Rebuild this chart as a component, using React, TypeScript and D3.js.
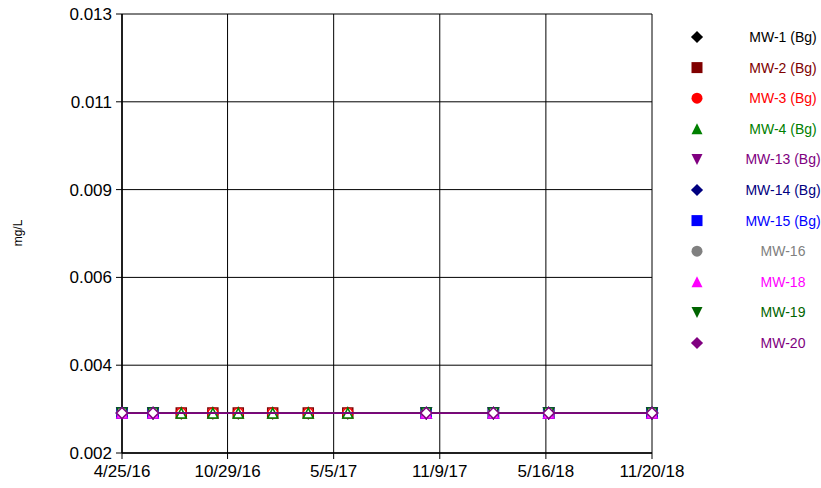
import React from "react";
import * as d3 from "d3";

// Sampling dates (ISO) and the concentration reported at each event (mg/L)
const sampleDates = [
  "2016-04-25", "2016-06-19", "2016-08-08", "2016-10-03", "2016-11-17", "2017-01-17",
  "2017-03-21", "2017-05-30", "2017-10-16", "2018-02-12", "2018-05-21", "2018-11-20",
];

const seriesNames = [
  "MW-1 (Bg)", "MW-2 (Bg)", "MW-3 (Bg)", "MW-4 (Bg)", "MW-13 (Bg)", "MW-14 (Bg)",
  "MW-15 (Bg)", "MW-16", "MW-18", "MW-19", "MW-20",
];

const seriesColors = [
  "#000000", "#800000", "#ff0000", "#008000", "#800080", "#000080",
  "#0000ff", "#808080", "#ff00ff", "#006400", "#800080",
];

const seriesShapes = [
  "diamond", "square", "circle", "triangle", "triangleDown", "diamond",
  "square", "circle", "triangle", "triangleDown", "diamond",
];

// null = not sampled on that date
const bgValues = [0.003, 0.003, 0.003, 0.003, 0.003, 0.003, 0.003, 0.003, 0.003, 0.003, 0.003, 0.003];
const dwValues = [0.003, 0.003, null, null, null, null, null, null, 0.003, 0.003, 0.003, 0.003];

const seriesValues: (number | null)[][] = [
  bgValues, bgValues, bgValues, bgValues,
  dwValues, dwValues, dwValues, dwValues, dwValues, dwValues, dwValues,
];

const xTickDates = ["2016-04-25", "2016-10-29", "2017-05-05", "2017-11-09", "2018-05-16", "2018-11-20"];
const yTickValues = [0.002, 0.0042, 0.0064, 0.0086, 0.0108, 0.013];

const W = 821;
const H = 488;
const M = { left: 122, right: 652, top: 14, bottom: 453 };
const FONT = "'Liberation Sans', Arial, sans-serif";

function symbolPath(shape: string, size: number): string {
  const h = size / 2;
  switch (shape) {
    case "diamond":
      return `M0,${-h * 1.1}L${h * 1.1},0L0,${h * 1.1}L${-h * 1.1},0Z`;
    case "square":
      return `M${-h},${-h}H${h}V${h}H${-h}Z`;
    case "circle":
      return `M${-h},0A${h},${h} 0 1,0 ${h},0A${h},${h} 0 1,0 ${-h},0Z`;
    case "triangle":
      return `M0,${-h}L${h},${h}L${-h},${h}Z`;
    case "triangleDown":
      return `M${-h},${-h}L${h},${-h}L0,${h}Z`;
    default:
      return "";
  }
}

export default function App() {
  const parse = (s: string) => new Date(s + "T00:00:00Z");
  const x = d3
    .scaleUtc()
    .domain([parse(xTickDates[0]), parse(xTickDates[xTickDates.length - 1])])
    .range([M.left, M.right]);
  const y = d3.scaleLinear().domain([0.002, 0.013]).range([M.bottom, M.top]);
  const fmtY = d3.format(".3f");
  const fmtX = d3.utcFormat("%-m/%-d/%y");

  const lineGen = d3
    .line<{ d: Date; v: number | null }>()
    .defined((p) => p.v !== null)
    .x((p) => x(p.d))
    .y((p) => y(p.v as number));

  const legendY0 = 37;
  const legendStep = 30.6;

  return (
    <svg
      width={W}
      height={H}
      style={{ position: "absolute", left: 0, top: 0, background: "#fff" }}
      fontFamily={FONT}
    >
      <rect x={0} y={0} width={W} height={H} fill="#fff" />
      {/* grid */}
      {yTickValues.map((t, i) => (
        <line key={"gy" + i} x1={M.left - 6} x2={M.right} y1={y(t)} y2={y(t)} stroke="#000" strokeWidth={1} />
      ))}
      {xTickDates.map((t, i) => (
        <line key={"gx" + i} x1={x(parse(t))} x2={x(parse(t))} y1={M.top} y2={M.bottom + 6} stroke="#000" strokeWidth={1} />
      ))}
      <line x1={M.left} x2={M.left} y1={M.top} y2={M.bottom} stroke="#000" strokeWidth={1.5} />
      <line x1={M.left} x2={M.right} y1={M.bottom} y2={M.bottom} stroke="#000" strokeWidth={1.5} />

      {/* tick labels */}
      {yTickValues.map((t, i) => (
        <text key={"ly" + i} x={112} y={y(t)} dy="0.35em" textAnchor="end" fontSize={17} fill="#000">
          {fmtY(t)}
        </text>
      ))}
      {xTickDates.map((t, i) => (
        <text key={"lx" + i} x={x(parse(t))} y={477} textAnchor="middle" fontSize={17} fill="#000">
          {fmtX(parse(t))}
        </text>
      ))}
      <text transform="translate(22,233) rotate(-90)" textAnchor="middle" fontSize={12} fill="#000">
        mg/L
      </text>

      {/* series: line then hollow markers, later series on top */}
      {seriesNames.map((name, si) => {
        const pts = sampleDates.map((d, i) => ({ d: parse(d), v: seriesValues[si][i] }));
        const present = pts.filter((p) => p.v !== null);
        return (
          <g key={name}>
            <path
              d={lineGen(present) || ""}
              fill="none"
              stroke={seriesColors[si]}
              strokeWidth={1.8}
            />
            {present.map((p, k) => (
              <path
                key={k}
                d={symbolPath(seriesShapes[si], 10)}
                transform={`translate(${x(p.d)},${y(p.v as number)})`}
                fill="#fff"
                stroke={seriesColors[si]}
                strokeWidth={1.5}
              />
            ))}
          </g>
        );
      })}

      {/* legend */}
      {seriesNames.map((name, si) => {
        const ly = legendY0 + si * legendStep;
        return (
          <g key={"lg" + name}>
            <path
              d={symbolPath(seriesShapes[si], 11)}
              transform={`translate(697,${ly})`}
              fill={seriesColors[si]}
            />
            <text x={783} y={ly} dy="0.35em" textAnchor="middle" fontSize={14} fill={seriesColors[si]}>
              {name}
            </text>
          </g>
        );
      })}
    </svg>
  );
}
